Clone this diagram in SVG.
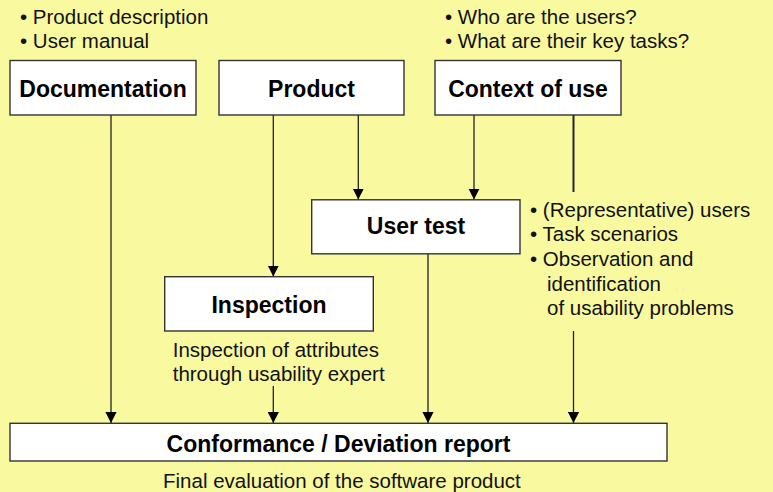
<svg xmlns="http://www.w3.org/2000/svg" width="773" height="492" viewBox="0 0 773 492">
  <style>
    .box { fill: #ffffff; stroke: #333333; stroke-width: 1.4; }
    .title { font-family: "Liberation Sans", Arial, sans-serif; font-size: 23px; font-weight: bold; fill: #000000; text-anchor: middle; }
    .note { font-family: "Liberation Sans", Arial, sans-serif; font-size: 20.5px; fill: #111111; }
    .link { stroke: #222222; stroke-width: 1.3; fill: none; }
    .arrow { marker-end: url(#head); }
  </style>
  <defs>
    <marker id="head" markerUnits="userSpaceOnUse" markerWidth="12" markerHeight="12" viewBox="0 0 12 12" refX="11" refY="6" orient="auto">
      <path d="M0,0.4 L11,6 L0,11.6 z" fill="#000000"/>
    </marker>
  </defs>

  <!-- background -->
  <rect x="0" y="0" width="773" height="492" fill="#F9FA9F"/>

  <!-- connectors -->
  <g id="connectors">
    <line class="link arrow" x1="111" y1="115" x2="111" y2="423"/>
    <line class="link arrow" x1="273.3" y1="115" x2="273.3" y2="276.5"/>
    <line class="link arrow" x1="358.3" y1="115" x2="358.3" y2="199.5"/>
    <line class="link arrow" x1="474" y1="115" x2="474" y2="199.5"/>
    <line class="link" style="stroke-width:2" x1="573.5" y1="115" x2="573.5" y2="192"/>
    <line class="link arrow" x1="573.5" y1="331" x2="573.5" y2="423"/>
    <line class="link arrow" x1="428" y1="254" x2="428" y2="423"/>
    <line class="link arrow" x1="273.3" y1="386" x2="273.3" y2="423"/>
  </g>

  <!-- documentation -->
  <g id="documentation">
    <text class="note" x="20" y="24">• Product description</text>
    <text class="note" x="20" y="47.5">• User manual</text>
    <rect class="box" x="10" y="60.5" width="186" height="54.5"/>
    <text class="title" x="103" y="96.5">Documentation</text>
  </g>

  <!-- product -->
  <g id="product">
    <rect class="box" x="219" y="60.5" width="185" height="54.5"/>
    <text class="title" x="311.5" y="96.5">Product</text>
  </g>

  <!-- context of use -->
  <g id="context">
    <text class="note" x="445" y="24">• Who are the users?</text>
    <text class="note" x="445" y="47.5">• What are their key tasks?</text>
    <rect class="box" x="435" y="60.5" width="186" height="54.5"/>
    <text class="title" x="528" y="96.5">Context of use</text>
  </g>

  <!-- user test -->
  <g id="user-test">
    <rect class="box" x="311.7" y="199.8" width="208.3" height="54"/>
    <text class="title" x="416" y="234.3">User test</text>
    <text class="note" x="530" y="217">• (Representative) users</text>
    <text class="note" x="530" y="241">• Task scenarios</text>
    <text class="note" x="530" y="265.5">• Observation and</text>
    <text class="note" x="547" y="290.5">identification</text>
    <text class="note" x="547" y="315">of usability problems</text>
  </g>

  <!-- inspection -->
  <g id="inspection">
    <rect class="box" x="164.7" y="276.7" width="208.6" height="54.3"/>
    <text class="title" x="269" y="313.3">Inspection</text>
    <text class="note" x="172.7" y="356.7">Inspection of attributes</text>
    <text class="note" x="172.7" y="380.5">through usability expert</text>
  </g>

  <!-- conformance / deviation report -->
  <g id="report">
    <rect class="box" x="10" y="423.3" width="657" height="37.7"/>
    <text class="title" x="338.5" y="451.5">Conformance / Deviation report</text>
    <text class="note" x="163" y="488">Final evaluation of the software product</text>
  </g>
</svg>
